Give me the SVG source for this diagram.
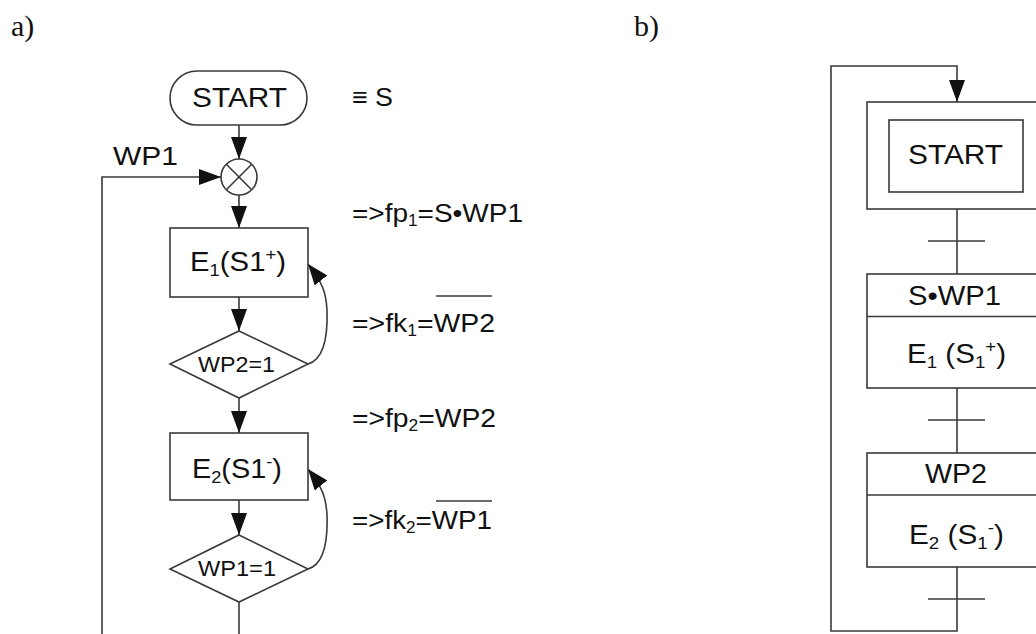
<svg xmlns="http://www.w3.org/2000/svg" width="1036" height="634" viewBox="0 0 1036 634">
  <style>
    .bg { fill: #ffffff; }
    .shape { fill: none; stroke: #3a3a3a; stroke-width: 1.6; }
    .line { fill: none; stroke: #3a3a3a; stroke-width: 1.6; }
    .txt { font-family: "Liberation Sans", Arial, sans-serif; fill: #111111; }
    .lbl { font-family: "Liberation Serif", "Times New Roman", serif; fill: #111111; font-size: 30px; }
    .big { font-size: 27px; }
    .mid { font-size: 26px; }
    .dia { font-size: 22px; }
  </style>
  <defs>
    <marker id="arrow" markerUnits="userSpaceOnUse" markerWidth="22" markerHeight="16" refX="22" refY="8" orient="auto">
      <path d="M0,0 L22,8 L0,16 Z" fill="#111111"/>
    </marker>
    <marker id="arrowSmall" markerUnits="userSpaceOnUse" markerWidth="21" markerHeight="16" refX="21" refY="8" orient="auto">
      <path d="M0,0 L21,8 L0,16 Z" fill="#111111"/>
    </marker>
  </defs>

  <rect class="bg" x="0" y="0" width="1036" height="634"/>

  <!-- panel labels -->
  <text class="lbl" x="11" y="36">a)</text>
  <text class="lbl" x="634" y="36">b)</text>

  <!-- ===== a) flowchart ===== -->
  <g id="connectors-a">
    <line class="line" x1="239" y1="125" x2="239" y2="159" marker-end="url(#arrow)"/>
    <line class="line" x1="239" y1="195" x2="239" y2="228" marker-end="url(#arrow)"/>
    <line class="line" x1="239" y1="297" x2="239" y2="331" marker-end="url(#arrow)"/>
    <line class="line" x1="239" y1="398" x2="239" y2="433" marker-end="url(#arrow)"/>
    <line class="line" x1="239" y1="500" x2="239" y2="535" marker-end="url(#arrow)"/>
    <line class="line" x1="239" y1="602" x2="239" y2="640"/>
    <!-- return path into the junction -->
    <polyline class="line" points="102,640 102,177 221,177" marker-end="url(#arrow)"/>
    <!-- loop-back arcs from the decisions -->
    <path class="line" d="M308,364 C322,360 328,340 327,310 C326,293 323,283 308,264" marker-end="url(#arrowSmall)"/>
    <path class="line" d="M308,569 C322,565 328,545 327,515 C326,498 323,488 308,469" marker-end="url(#arrowSmall)"/>
  </g>

  <g id="start-a">
    <rect class="shape" x="170" y="71" width="137" height="54" rx="27" ry="27"/>
    <text class="txt big" x="192" y="107" textLength="95" lengthAdjust="spacingAndGlyphs">START</text>
  </g>

  <g id="junction">
    <circle class="shape" cx="239" cy="177" r="18"/>
    <line class="line" x1="226.3" y1="164.3" x2="251.7" y2="189.7"/>
    <line class="line" x1="251.7" y1="164.3" x2="226.3" y2="189.7"/>
  </g>

  <g id="wp1-label">
    <text class="txt mid" x="113" y="165" textLength="65" lengthAdjust="spacingAndGlyphs">WP1</text>
  </g>

  <g id="step-e1">
    <rect class="shape" x="170" y="228" width="138" height="69"/>
    <text class="txt big" x="190" y="271" textLength="96" lengthAdjust="spacingAndGlyphs">E<tspan font-size="17" dy="5">1</tspan><tspan dy="-5">(S1</tspan><tspan font-size="17" dy="-11">+</tspan><tspan dy="11">)</tspan></text>
  </g>

  <g id="decision-wp2">
    <polygon class="shape" points="239,331 308,364 239,398 170,364"/>
    <text class="txt dia" x="198" y="372" textLength="77" lengthAdjust="spacingAndGlyphs">WP2=1</text>
  </g>

  <g id="step-e2">
    <rect class="shape" x="170" y="433" width="138" height="67"/>
    <text class="txt big" x="192" y="478" textLength="90" lengthAdjust="spacingAndGlyphs">E<tspan font-size="17" dy="5">2</tspan><tspan dy="-5">(S1</tspan><tspan font-size="17" dy="-11">-</tspan><tspan dy="11">)</tspan></text>
  </g>

  <g id="decision-wp1">
    <polygon class="shape" points="239,535 308,569 239,602 170,569"/>
    <text class="txt dia" x="198" y="576" textLength="78" lengthAdjust="spacingAndGlyphs">WP1=1</text>
  </g>

  <!-- conditions next to the flowchart -->
  <g id="conditions">
    <text class="txt mid" x="352" y="106" textLength="41" lengthAdjust="spacingAndGlyphs">≡ S</text>
    <text class="txt mid" x="352" y="222" textLength="171" lengthAdjust="spacingAndGlyphs">=&gt;fp<tspan font-size="16" dy="4">1</tspan><tspan dy="-4">=S•WP1</tspan></text>
    <text class="txt mid" x="352" y="332" textLength="143" lengthAdjust="spacingAndGlyphs">=&gt;fk<tspan font-size="16" dy="4">1</tspan><tspan dy="-4">=WP2</tspan></text>
    <line class="line" x1="436" y1="296" x2="492" y2="296"/>
    <text class="txt mid" x="352" y="427" textLength="144" lengthAdjust="spacingAndGlyphs">=&gt;fp<tspan font-size="16" dy="4">2</tspan><tspan dy="-4">=WP2</tspan></text>
    <text class="txt mid" x="352" y="529" textLength="140" lengthAdjust="spacingAndGlyphs">=&gt;fk<tspan font-size="16" dy="4">2</tspan><tspan dy="-4">=WP1</tspan></text>
    <line class="line" x1="436" y1="501" x2="492" y2="501"/>
  </g>

  <!-- ===== b) step diagram ===== -->
  <g id="connectors-b">
    <polyline class="line" points="957,567 957,631 831,631 831,66 957,66 957,102" marker-end="url(#arrow)"/>
    <line class="line" x1="957" y1="209" x2="957" y2="274"/>
    <line class="line" x1="957" y1="388" x2="957" y2="453"/>
    <!-- transitions -->
    <line class="line" x1="928" y1="241" x2="985" y2="241"/>
    <line class="line" x1="928" y1="420" x2="985" y2="420"/>
    <line class="line" x1="928" y1="599" x2="985" y2="599"/>
  </g>

  <g id="step-start">
    <rect class="shape" x="867" y="102" width="180" height="107"/>
    <rect class="shape" x="889" y="120" width="134" height="72"/>
    <text class="txt big" x="908" y="164" textLength="95" lengthAdjust="spacingAndGlyphs">START</text>
  </g>

  <g id="step-1">
    <rect class="shape" x="867" y="274" width="180" height="114"/>
    <line class="line" x1="867" y1="316.5" x2="1047" y2="316.5"/>
    <text class="txt big" x="908" y="305" textLength="93" lengthAdjust="spacingAndGlyphs">S•WP1</text>
    <text class="txt big" x="907" y="363" textLength="99" lengthAdjust="spacingAndGlyphs">E<tspan font-size="17" dy="5">1</tspan><tspan dy="-5"> (S</tspan><tspan font-size="17" dy="5">1</tspan><tspan font-size="17" dy="-16">+</tspan><tspan dy="11">)</tspan></text>
  </g>

  <g id="step-2">
    <rect class="shape" x="867" y="453" width="180" height="114"/>
    <line class="line" x1="867" y1="495" x2="1047" y2="495"/>
    <text class="txt big" x="925" y="483" textLength="62" lengthAdjust="spacingAndGlyphs">WP2</text>
    <text class="txt big" x="909" y="544" textLength="95" lengthAdjust="spacingAndGlyphs">E<tspan font-size="17" dy="5">2</tspan><tspan dy="-5"> (S</tspan><tspan font-size="17" dy="5">1</tspan><tspan font-size="17" dy="-16">-</tspan><tspan dy="11">)</tspan></text>
  </g>
</svg>
